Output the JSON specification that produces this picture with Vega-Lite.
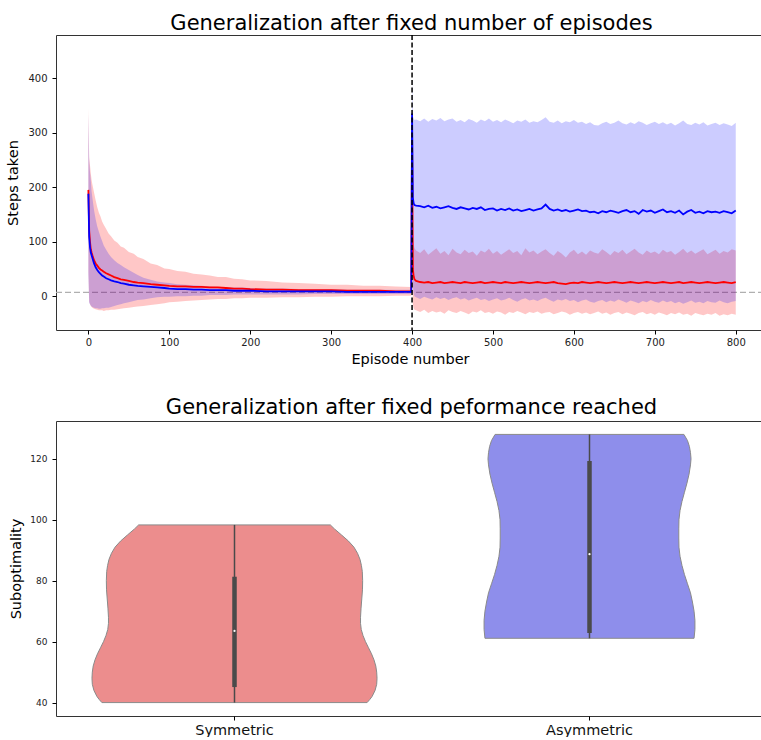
{
  "$schema": "https://vega.github.io/schema/vega-lite/v6.json",
  "padding": {"left": 5, "top": 12, "right": -5, "bottom": 0},
  "spacing": 30,
  "config": {
    "font": "DejaVu Sans",
    "view": {"stroke": "#333333", "strokeWidth": 1},
    "axis": {"grid": false, "domain": false, "tickColor": "#000000", "tickSize": 4, "labelColor": "#222222", "titleColor": "#000000", "labelFont": "DejaVu Sans", "titleFont": "DejaVu Sans", "titleFontWeight": "normal", "labelFlush": false, "labelOverlap": false},
    "title": {"font": "DejaVu Sans", "fontWeight": "normal", "fontSize": 21, "color": "#000000"}
  },
  "datasets": {
    "curves": [
      {"ep":0,"r":195,"rlo":45,"rhi":345,"b":188,"blo":40,"bhi":335},
      {"ep":1,"r":121,"rlo":-10,"rhi":255,"b":109,"blo":-12,"bhi":250},
      {"ep":2,"r":100,"rlo":-15,"rhi":240,"b":90,"blo":-15,"bhi":228},
      {"ep":3,"r":86,"rlo":-18,"rhi":225,"b":80,"blo":-17,"bhi":212},
      {"ep":4,"r":80,"rlo":-20,"rhi":213,"b":75,"blo":-19,"bhi":192},
      {"ep":5,"r":75,"rlo":-21,"rhi":205,"b":70,"blo":-20,"bhi":180},
      {"ep":7,"r":66,"rlo":-23,"rhi":190,"b":60,"blo":-21,"bhi":158},
      {"ep":9,"r":60,"rlo":-24,"rhi":176,"b":53,"blo":-22,"bhi":141},
      {"ep":11,"r":56,"rlo":-25,"rhi":163,"b":48,"blo":-22,"bhi":128},
      {"ep":13,"r":52,"rlo":-26,"rhi":153,"b":44,"blo":-23,"bhi":118},
      {"ep":15,"r":49,"rlo":-26,"rhi":146,"b":41,"blo":-23,"bhi":109},
      {"ep":17,"r":47,"rlo":-26,"rhi":137,"b":38,"blo":-22,"bhi":101},
      {"ep":19,"r":45,"rlo":-27,"rhi":131,"b":36,"blo":-22,"bhi":93},
      {"ep":22,"r":42,"rlo":-26,"rhi":123,"b":33,"blo":-21,"bhi":85},
      {"ep":25,"r":40,"rlo":-26,"rhi":115,"b":31,"blo":-21,"bhi":78},
      {"ep":28,"r":38,"rlo":-25,"rhi":110,"b":29,"blo":-20,"bhi":72},
      {"ep":32,"r":35,"rlo":-25,"rhi":102,"b":27,"blo":-18,"bhi":66},
      {"ep":36,"r":33,"rlo":-24,"rhi":98,"b":26,"blo":-16,"bhi":61},
      {"ep":40,"r":31,"rlo":-23,"rhi":91,"b":24,"blo":-15,"bhi":57},
      {"ep":44,"r":30,"rlo":-22,"rhi":89,"b":23,"blo":-13,"bhi":53},
      {"ep":50,"r":28,"rlo":-21,"rhi":81,"b":21,"blo":-11,"bhi":48},
      {"ep":56,"r":26,"rlo":-20,"rhi":78,"b":20,"blo":-9,"bhi":43},
      {"ep":61,"r":25,"rlo":-19,"rhi":72,"b":19,"blo":-7,"bhi":39},
      {"ep":68,"r":24,"rlo":-18,"rhi":68,"b":18,"blo":-6,"bhi":34},
      {"ep":77,"r":22,"rlo":-16,"rhi":60,"b":17,"blo":-4,"bhi":30},
      {"ep":85,"r":21,"rlo":-15,"rhi":57,"b":16,"blo":-2,"bhi":27},
      {"ep":94,"r":20,"rlo":-13,"rhi":51,"b":15,"blo":-1,"bhi":25},
      {"ep":100,"r":19,"rlo":-11,"rhi":50,"b":14,"blo":-1,"bhi":24},
      {"ep":110,"r":18,"rlo":-10,"rhi":46,"b":13,"blo":0,"bhi":22},
      {"ep":120,"r":18,"rlo":-9,"rhi":45,"b":13,"blo":0,"bhi":21},
      {"ep":130,"r":17,"rlo":-8,"rhi":41,"b":12,"blo":1,"bhi":20},
      {"ep":140,"r":17,"rlo":-7,"rhi":40,"b":12,"blo":1,"bhi":19},
      {"ep":150,"r":16,"rlo":-6,"rhi":38,"b":11,"blo":2,"bhi":18},
      {"ep":160,"r":16,"rlo":-5,"rhi":35,"b":11,"blo":2,"bhi":17},
      {"ep":170,"r":15,"rlo":-5,"rhi":35,"b":11,"blo":2,"bhi":17},
      {"ep":180,"r":14,"rlo":-4,"rhi":32,"b":10,"blo":3,"bhi":16},
      {"ep":190,"r":14,"rlo":-4,"rhi":31,"b":10,"blo":3,"bhi":16},
      {"ep":200,"r":13,"rlo":-3,"rhi":29,"b":10,"blo":3,"bhi":15},
      {"ep":220,"r":12,"rlo":-3,"rhi":28,"b":9,"blo":3,"bhi":14},
      {"ep":240,"r":12,"rlo":-2,"rhi":25,"b":9,"blo":3,"bhi":14},
      {"ep":260,"r":11,"rlo":-2,"rhi":24,"b":9,"blo":3,"bhi":13},
      {"ep":280,"r":11,"rlo":-1,"rhi":23,"b":9,"blo":4,"bhi":13},
      {"ep":300,"r":11,"rlo":-1,"rhi":21,"b":9,"blo":4,"bhi":13},
      {"ep":320,"r":10,"rlo":0,"rhi":21,"b":8,"blo":4,"bhi":12},
      {"ep":340,"r":10,"rlo":0,"rhi":19,"b":8,"blo":4,"bhi":12},
      {"ep":360,"r":10,"rlo":0,"rhi":19,"b":8,"blo":4,"bhi":12},
      {"ep":380,"r":9,"rlo":1,"rhi":18,"b":8,"blo":4,"bhi":12},
      {"ep":399,"r":9,"rlo":1,"rhi":17,"b":8,"blo":4,"bhi":12},
      {"ep":400,"r":300,"rlo":260,"rhi":345,"b":335,"blo":300,"bhi":400},
      {"ep":401,"r":50,"rlo":-15,"rhi":115,"b":180,"blo":20,"bhi":330},
      {"ep":402,"r":36,"rlo":-22,"rhi":95,"b":170,"blo":5,"bhi":326},
      {"ep":403,"r":31,"rlo":-25,"rhi":88,"b":167,"blo":0,"bhi":323},
      {"ep":405,"r":28,"rlo":-26,"rhi":84,"b":166,"blo":-2,"bhi":324},
      {"ep":410,"r":26,"rlo":-29,"rhi":79,"b":165,"blo":-5,"bhi":321},
      {"ep":415,"r":25,"rlo":-25,"rhi":86,"b":163,"blo":-1,"bhi":326},
      {"ep":420,"r":26,"rlo":-31,"rhi":76,"b":166,"blo":-4,"bhi":320},
      {"ep":425,"r":24,"rlo":-27,"rhi":82,"b":162,"blo":-6,"bhi":325},
      {"ep":430,"r":25,"rlo":-30,"rhi":88,"b":164,"blo":-2,"bhi":322},
      {"ep":435,"r":26,"rlo":-28,"rhi":78,"b":161,"blo":-5,"bhi":327},
      {"ep":440,"r":24,"rlo":-32,"rhi":83,"b":163,"blo":-3,"bhi":321},
      {"ep":445,"r":25,"rlo":-26,"rhi":75,"b":165,"blo":-7,"bhi":324},
      {"ep":450,"r":26,"rlo":-29,"rhi":87,"b":162,"blo":-4,"bhi":326},
      {"ep":455,"r":25,"rlo":-31,"rhi":80,"b":160,"blo":-2,"bhi":320},
      {"ep":460,"r":24,"rlo":-27,"rhi":77,"b":163,"blo":-6,"bhi":323},
      {"ep":465,"r":26,"rlo":-30,"rhi":85,"b":161,"blo":-4,"bhi":319},
      {"ep":470,"r":25,"rlo":-33,"rhi":79,"b":159,"blo":-8,"bhi":325},
      {"ep":475,"r":24,"rlo":-28,"rhi":82,"b":162,"blo":-5,"bhi":322},
      {"ep":480,"r":25,"rlo":-30,"rhi":74,"b":160,"blo":-3,"bhi":318},
      {"ep":485,"r":26,"rlo":-26,"rhi":84,"b":163,"blo":-7,"bhi":324},
      {"ep":490,"r":24,"rlo":-31,"rhi":80,"b":158,"blo":-5,"bhi":321},
      {"ep":495,"r":25,"rlo":-29,"rhi":87,"b":160,"blo":-9,"bhi":326},
      {"ep":500,"r":26,"rlo":-32,"rhi":78,"b":161,"blo":-6,"bhi":320},
      {"ep":505,"r":25,"rlo":-28,"rhi":83,"b":157,"blo":-4,"bhi":323},
      {"ep":510,"r":24,"rlo":-30,"rhi":76,"b":160,"blo":-8,"bhi":319},
      {"ep":515,"r":26,"rlo":-34,"rhi":81,"b":158,"blo":-6,"bhi":324},
      {"ep":520,"r":25,"rlo":-29,"rhi":86,"b":161,"blo":-3,"bhi":321},
      {"ep":525,"r":24,"rlo":-31,"rhi":79,"b":157,"blo":-7,"bhi":317},
      {"ep":530,"r":25,"rlo":-27,"rhi":83,"b":159,"blo":-10,"bhi":322},
      {"ep":535,"r":26,"rlo":-30,"rhi":75,"b":156,"blo":-6,"bhi":320},
      {"ep":540,"r":25,"rlo":-33,"rhi":88,"b":158,"blo":-4,"bhi":324},
      {"ep":545,"r":24,"rlo":-29,"rhi":80,"b":160,"blo":-8,"bhi":318},
      {"ep":550,"r":25,"rlo":-31,"rhi":84,"b":157,"blo":-6,"bhi":321},
      {"ep":555,"r":26,"rlo":-28,"rhi":77,"b":159,"blo":-9,"bhi":319},
      {"ep":560,"r":25,"rlo":-32,"rhi":82,"b":161,"blo":-5,"bhi":323},
      {"ep":565,"r":24,"rlo":-30,"rhi":86,"b":168,"blo":-3,"bhi":328},
      {"ep":570,"r":25,"rlo":-29,"rhi":79,"b":160,"blo":-7,"bhi":320},
      {"ep":575,"r":26,"rlo":-33,"rhi":74,"b":157,"blo":-10,"bhi":318},
      {"ep":580,"r":24,"rlo":-31,"rhi":83,"b":159,"blo":-6,"bhi":322},
      {"ep":585,"r":23,"rlo":-28,"rhi":78,"b":156,"blo":-8,"bhi":317},
      {"ep":590,"r":22,"rlo":-30,"rhi":71,"b":158,"blo":-5,"bhi":321},
      {"ep":595,"r":24,"rlo":-34,"rhi":80,"b":155,"blo":-9,"bhi":319},
      {"ep":600,"r":25,"rlo":-31,"rhi":85,"b":157,"blo":-7,"bhi":323},
      {"ep":605,"r":24,"rlo":-29,"rhi":77,"b":159,"blo":-11,"bhi":318},
      {"ep":610,"r":26,"rlo":-32,"rhi":82,"b":156,"blo":-8,"bhi":320},
      {"ep":615,"r":25,"rlo":-30,"rhi":76,"b":157,"blo":-6,"bhi":316},
      {"ep":620,"r":24,"rlo":-33,"rhi":84,"b":154,"blo":-10,"bhi":319},
      {"ep":625,"r":25,"rlo":-31,"rhi":80,"b":155,"blo":-12,"bhi":314},
      {"ep":630,"r":26,"rlo":-28,"rhi":78,"b":152,"blo":-9,"bhi":313},
      {"ep":635,"r":25,"rlo":-32,"rhi":86,"b":156,"blo":-7,"bhi":317},
      {"ep":640,"r":24,"rlo":-30,"rhi":81,"b":154,"blo":-11,"bhi":320},
      {"ep":645,"r":25,"rlo":-34,"rhi":75,"b":157,"blo":-8,"bhi":316},
      {"ep":650,"r":26,"rlo":-31,"rhi":83,"b":155,"blo":-10,"bhi":318},
      {"ep":655,"r":25,"rlo":-29,"rhi":79,"b":153,"blo":-6,"bhi":322},
      {"ep":660,"r":24,"rlo":-33,"rhi":85,"b":156,"blo":-9,"bhi":317},
      {"ep":665,"r":25,"rlo":-30,"rhi":77,"b":158,"blo":-12,"bhi":315},
      {"ep":670,"r":26,"rlo":-32,"rhi":82,"b":154,"blo":-8,"bhi":319},
      {"ep":675,"r":25,"rlo":-35,"rhi":87,"b":156,"blo":-10,"bhi":316},
      {"ep":680,"r":24,"rlo":-31,"rhi":80,"b":151,"blo":-13,"bhi":321},
      {"ep":685,"r":25,"rlo":-29,"rhi":76,"b":158,"blo":-9,"bhi":318},
      {"ep":690,"r":26,"rlo":-33,"rhi":84,"b":155,"blo":-11,"bhi":314},
      {"ep":695,"r":25,"rlo":-31,"rhi":79,"b":157,"blo":-7,"bhi":317},
      {"ep":700,"r":24,"rlo":-34,"rhi":82,"b":153,"blo":-10,"bhi":320},
      {"ep":705,"r":25,"rlo":-30,"rhi":77,"b":156,"blo":-12,"bhi":316},
      {"ep":710,"r":26,"rlo":-32,"rhi":85,"b":159,"blo":-8,"bhi":319},
      {"ep":715,"r":25,"rlo":-35,"rhi":80,"b":154,"blo":-11,"bhi":315},
      {"ep":720,"r":24,"rlo":-31,"rhi":83,"b":156,"blo":-9,"bhi":318},
      {"ep":725,"r":25,"rlo":-33,"rhi":76,"b":153,"blo":-13,"bhi":313},
      {"ep":730,"r":26,"rlo":-30,"rhi":81,"b":157,"blo":-10,"bhi":317},
      {"ep":735,"r":24,"rlo":-34,"rhi":87,"b":150,"blo":-14,"bhi":322},
      {"ep":740,"r":25,"rlo":-32,"rhi":79,"b":155,"blo":-11,"bhi":316},
      {"ep":745,"r":26,"rlo":-36,"rhi":84,"b":158,"blo":-8,"bhi":314},
      {"ep":750,"r":25,"rlo":-31,"rhi":78,"b":153,"blo":-12,"bhi":318},
      {"ep":755,"r":24,"rlo":-33,"rhi":82,"b":155,"blo":-10,"bhi":315},
      {"ep":760,"r":25,"rlo":-35,"rhi":86,"b":152,"blo":-13,"bhi":319},
      {"ep":765,"r":26,"rlo":-32,"rhi":77,"b":156,"blo":-9,"bhi":313},
      {"ep":770,"r":25,"rlo":-34,"rhi":81,"b":154,"blo":-11,"bhi":316},
      {"ep":775,"r":24,"rlo":-31,"rhi":85,"b":155,"blo":-12,"bhi":318},
      {"ep":780,"r":25,"rlo":-36,"rhi":78,"b":153,"blo":-8,"bhi":314},
      {"ep":785,"r":26,"rlo":-33,"rhi":83,"b":156,"blo":-11,"bhi":317},
      {"ep":790,"r":25,"rlo":-35,"rhi":80,"b":154,"blo":-13,"bhi":315},
      {"ep":795,"r":24,"rlo":-32,"rhi":86,"b":152,"blo":-10,"bhi":312},
      {"ep":800,"r":26,"rlo":-34,"rhi":84,"b":157,"blo":-9,"bhi":318}
    ],
    "refs": [{"optimal": 7, "switch": 400}],
    "violin": [
      {"group":"Symmetric","value":40,"density":0.747},
      {"group":"Symmetric","value":41,"density":0.762},
      {"group":"Symmetric","value":42,"density":0.775},
      {"group":"Symmetric","value":44,"density":0.792},
      {"group":"Symmetric","value":46,"density":0.801},
      {"group":"Symmetric","value":48,"density":0.803},
      {"group":"Symmetric","value":50,"density":0.801},
      {"group":"Symmetric","value":52,"density":0.796},
      {"group":"Symmetric","value":54,"density":0.786},
      {"group":"Symmetric","value":56,"density":0.772},
      {"group":"Symmetric","value":58,"density":0.755},
      {"group":"Symmetric","value":60,"density":0.738},
      {"group":"Symmetric","value":62,"density":0.724},
      {"group":"Symmetric","value":64,"density":0.714},
      {"group":"Symmetric","value":66,"density":0.710},
      {"group":"Symmetric","value":68,"density":0.710},
      {"group":"Symmetric","value":71,"density":0.713},
      {"group":"Symmetric","value":74,"density":0.717},
      {"group":"Symmetric","value":77,"density":0.721},
      {"group":"Symmetric","value":80,"density":0.722},
      {"group":"Symmetric","value":83,"density":0.720},
      {"group":"Symmetric","value":85,"density":0.715},
      {"group":"Symmetric","value":87,"density":0.707},
      {"group":"Symmetric","value":89,"density":0.693},
      {"group":"Symmetric","value":91,"density":0.673},
      {"group":"Symmetric","value":93,"density":0.642},
      {"group":"Symmetric","value":95,"density":0.603},
      {"group":"Symmetric","value":97,"density":0.563},
      {"group":"Symmetric","value":98.3,"density":0.540},
      {"group":"Asymmetric","value":61.1,"density":0.589},
      {"group":"Asymmetric","value":64,"density":0.594},
      {"group":"Asymmetric","value":67,"density":0.594},
      {"group":"Asymmetric","value":70,"density":0.589},
      {"group":"Asymmetric","value":73,"density":0.580},
      {"group":"Asymmetric","value":76,"density":0.569},
      {"group":"Asymmetric","value":79,"density":0.552},
      {"group":"Asymmetric","value":82,"density":0.535},
      {"group":"Asymmetric","value":85,"density":0.521},
      {"group":"Asymmetric","value":88,"density":0.510},
      {"group":"Asymmetric","value":91,"density":0.504},
      {"group":"Asymmetric","value":94,"density":0.503},
      {"group":"Asymmetric","value":97,"density":0.503},
      {"group":"Asymmetric","value":100,"density":0.504},
      {"group":"Asymmetric","value":103,"density":0.510},
      {"group":"Asymmetric","value":106,"density":0.521},
      {"group":"Asymmetric","value":109,"density":0.535},
      {"group":"Asymmetric","value":112,"density":0.549},
      {"group":"Asymmetric","value":115,"density":0.561},
      {"group":"Asymmetric","value":118,"density":0.569},
      {"group":"Asymmetric","value":120,"density":0.572},
      {"group":"Asymmetric","value":122,"density":0.569},
      {"group":"Asymmetric","value":124,"density":0.563},
      {"group":"Asymmetric","value":126,"density":0.552},
      {"group":"Asymmetric","value":128,"density":0.532}
    ],
    "stats": [
      {"group":"Symmetric","min":40,"q1":45.1,"median":63.5,"q3":81.3,"max":98.3},
      {"group":"Asymmetric","min":61.1,"q1":62.8,"median":88.7,"q3":119.3,"max":128}
    ]
  },
  "vconcat": [
    {
      "width": 708,
      "height": 295,
      "title": {"text": "Generalization after fixed number of episodes", "dx": 1.5, "offset": 0},
      "layer": [
        {
          "data": {"name": "refs"},
          "mark": {"type": "rule", "color": "#b0b0b0", "strokeWidth": 1.3, "strokeDash": [6, 3]},
          "encoding": {
            "y": {"field": "optimal", "type": "quantitative", "title": "Steps taken", "scale": {"domain": [-62, 479], "nice": false, "zero": false}}
          }
        },
        {
          "data": {"name": "curves"},
          "mark": {"type": "area", "color": "#ff0000", "opacity": 0.22},
          "encoding": {
            "x": {"field": "ep", "type": "quantitative", "title": "Episode number", "scale": {"domain": [-40, 834.9], "nice": false, "zero": false}},
            "y": {"field": "rlo", "type": "quantitative", "title": "Steps taken", "scale": {"domain": [-62, 479], "nice": false, "zero": false}},
            "y2": {"field": "rhi"}
          }
        },
        {
          "data": {"name": "curves"},
          "mark": {"type": "area", "color": "#0000ff", "opacity": 0.2},
          "encoding": {
            "x": {"field": "ep", "type": "quantitative", "title": "Episode number", "scale": {"domain": [-40, 834.9], "nice": false, "zero": false}},
            "y": {"field": "blo", "type": "quantitative", "title": "Steps taken", "scale": {"domain": [-62, 479], "nice": false, "zero": false}},
            "y2": {"field": "bhi"}
          }
        },
        {
          "data": {"name": "curves"},
          "mark": {"type": "line", "color": "#ff0000", "strokeWidth": 1.8},
          "encoding": {
            "x": {"field": "ep", "type": "quantitative", "title": "Episode number", "scale": {"domain": [-40, 834.9], "nice": false, "zero": false}},
            "y": {"field": "r", "type": "quantitative", "title": "Steps taken", "scale": {"domain": [-62, 479], "nice": false, "zero": false}}
          }
        },
        {
          "data": {"name": "curves"},
          "mark": {"type": "line", "color": "#0000ff", "strokeWidth": 1.8},
          "encoding": {
            "x": {"field": "ep", "type": "quantitative", "title": "Episode number", "scale": {"domain": [-40, 834.9], "nice": false, "zero": false}},
            "y": {"field": "b", "type": "quantitative", "title": "Steps taken", "scale": {"domain": [-62, 479], "nice": false, "zero": false}, "axis": {"values": [0, 100, 200, 300, 400], "labelFontSize": 10, "labelPadding": 5, "titleFontSize": 14.5, "titlePadding": 7}}
          }
        },
        {
          "data": {"name": "refs"},
          "mark": {"type": "rule", "color": "#000000", "strokeWidth": 1.5, "strokeDash": [5, 2.5]},
          "encoding": {
            "x": {"field": "switch", "type": "quantitative", "title": "Episode number", "scale": {"domain": [-40, 834.9], "nice": false, "zero": false}, "axis": {"values": [0, 100, 200, 300, 400, 500, 600, 700, 800], "labelFontSize": 10, "labelPadding": 3, "titleFontSize": 14.5, "titlePadding": 5}}
          }
        }
      ]
    },
    {
      "width": 708,
      "height": 295,
      "title": {"text": "Generalization after fixed peformance reached", "dx": 1.5, "offset": 3},
      "layer": [
        {
          "data": {"name": "violin"},
          "transform": [{"filter": "datum.group === 'Symmetric'"}],
          "mark": {"type": "area", "orient": "horizontal", "color": "#ec8d8d", "stroke": "#8a8a8a", "strokeWidth": 1},
          "encoding": {
            "x": {"field": "density", "type": "quantitative", "stack": "center", "scale": {"domain": [-0.10132, 1.89305], "nice": false, "zero": false}, "axis": null},
            "y": {"field": "value", "type": "quantitative", "title": "Suboptimality", "scale": {"domain": [35.6, 132.4], "nice": false, "zero": false}, "axis": {"values": [40, 60, 80, 100, 120], "labelFontSize": 9, "labelPadding": 5, "titleFontSize": 14.5, "titlePadding": 6}}
          }
        },
        {
          "data": {"name": "violin"},
          "transform": [{"filter": "datum.group === 'Asymmetric'"}],
          "mark": {"type": "area", "orient": "horizontal", "color": "#8e8eeb", "stroke": "#8a8a8a", "strokeWidth": 1},
          "encoding": {
            "x": {"field": "density", "type": "quantitative", "stack": "center", "scale": {"domain": [-1.20582, 0.78855], "nice": false, "zero": false}, "axis": null},
            "y": {"field": "value", "type": "quantitative", "title": "Suboptimality", "scale": {"domain": [35.6, 132.4], "nice": false, "zero": false}}
          }
        },
        {
          "data": {"name": "stats"},
          "mark": {"type": "rule", "color": "#4a4a4a", "strokeWidth": 1.5},
          "encoding": {
            "x": {"field": "group", "type": "nominal", "title": null, "scale": {"type": "band", "domain": ["Symmetric", "Asymmetric"], "range": [1, 711], "paddingInner": 0, "paddingOuter": 0}, "axis": {"labelAngle": 0, "labelFontSize": 14.5, "labelPadding": 3, "labelColor": "#111111"}},
            "y": {"field": "min", "type": "quantitative", "title": "Suboptimality", "scale": {"domain": [35.6, 132.4], "nice": false, "zero": false}},
            "y2": {"field": "max"}
          }
        },
        {
          "data": {"name": "stats"},
          "mark": {"type": "rule", "color": "#4a4a4a", "strokeWidth": 4.5},
          "encoding": {
            "x": {"field": "group", "type": "nominal", "title": null, "scale": {"type": "band", "domain": ["Symmetric", "Asymmetric"], "range": [1, 711], "paddingInner": 0, "paddingOuter": 0}, "axis": null},
            "y": {"field": "q1", "type": "quantitative", "title": "Suboptimality", "scale": {"domain": [35.6, 132.4], "nice": false, "zero": false}},
            "y2": {"field": "q3"}
          }
        },
        {
          "data": {"name": "stats"},
          "mark": {"type": "point", "filled": true, "color": "#ffffff", "size": 5, "opacity": 1},
          "encoding": {
            "x": {"field": "group", "type": "nominal", "title": null, "scale": {"type": "band", "domain": ["Symmetric", "Asymmetric"], "range": [1, 711], "paddingInner": 0, "paddingOuter": 0}, "axis": null},
            "y": {"field": "median", "type": "quantitative", "title": "Suboptimality", "scale": {"domain": [35.6, 132.4], "nice": false, "zero": false}}
          }
        }
      ],
      "resolve": {"scale": {"x": "independent"}, "axis": {"x": "independent"}}
    }
  ]
}
